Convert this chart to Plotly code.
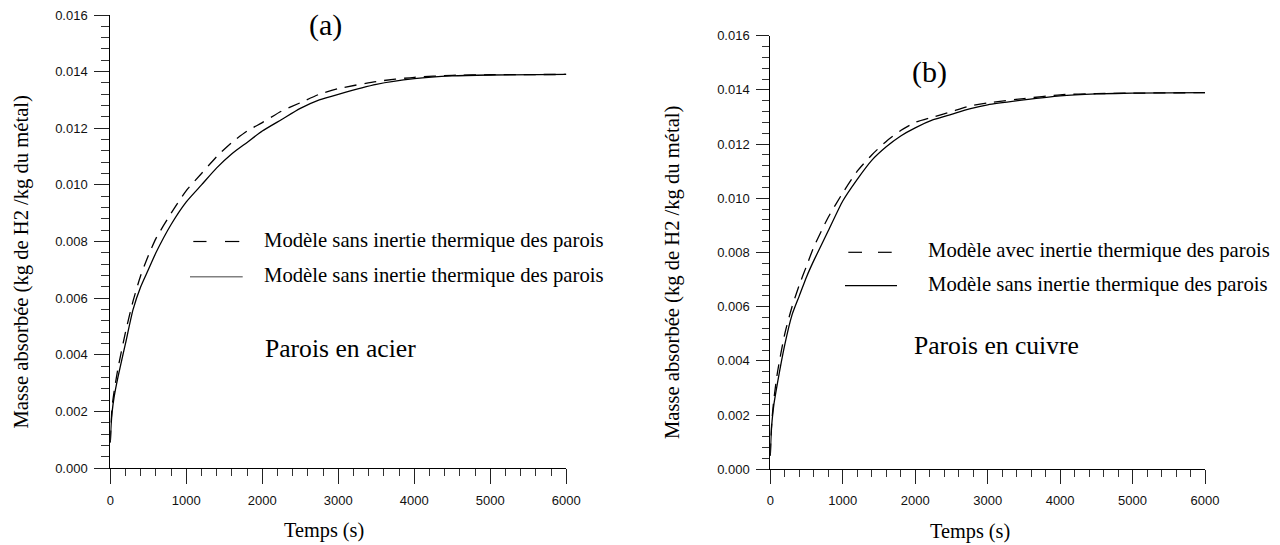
import plotly.graph_objects as go

# ---------------- data ----------------
temps = [0, 10, 25, 50, 100, 200, 300, 400, 500, 600, 800, 1000, 1200, 1400,
         1600, 1800, 2000, 2250, 2500, 2750, 3000, 3500, 4000, 4500, 5000, 6000]

# (a) Parois en acier
acier_dashed = [0.0009, 0.0016, 0.0022, 0.0027, 0.0035, 0.0048, 0.0059, 0.0068, 0.0075,
                0.0081, 0.0090, 0.0098, 0.0104, 0.0110, 0.0115, 0.0119, 0.0122, 0.0126,
                0.0129, 0.0132, 0.0134, 0.01365, 0.0138, 0.01387, 0.01389, 0.0139]
acier_solid = [0.0009, 0.0015, 0.0020, 0.0025, 0.0032, 0.0044, 0.0056, 0.0064, 0.0070,
               0.0076, 0.0086, 0.0094, 0.0100, 0.0106, 0.0111, 0.0115, 0.0119, 0.0123,
               0.0127, 0.0130, 0.0132, 0.01355, 0.01375, 0.01385, 0.01388, 0.0139]

# (b) Parois en cuivre
cuivre_dashed = [0.0005, 0.0013, 0.0019, 0.0026, 0.0036, 0.0050, 0.0060, 0.0068, 0.0075,
                 0.0082, 0.0093, 0.0102, 0.0110, 0.0116, 0.0121, 0.0125, 0.0128, 0.0130,
                 0.0132, 0.0134, 0.01352, 0.01368, 0.01382, 0.01386, 0.01388, 0.0139]
cuivre_solid = [0.0005, 0.0012, 0.0018, 0.0024, 0.0032, 0.0046, 0.0057, 0.0064, 0.0071,
                0.0077, 0.0088, 0.0099, 0.0107, 0.0114, 0.0119, 0.0123, 0.0126, 0.0129,
                0.0131, 0.0133, 0.01345, 0.01363, 0.01378, 0.01385, 0.01388, 0.0139]

x_ticks = [0, 1000, 2000, 3000, 4000, 5000, 6000]
y_ticks = [0.000, 0.002, 0.004, 0.006, 0.008, 0.010, 0.012, 0.014, 0.016]

legend_a = ["Modèle sans inertie thermique des parois", "Modèle sans inertie thermique des parois"]
legend_b = ["Modèle avec inertie thermique des parois", "Modèle sans inertie thermique des parois"]
y_title = "Masse absorbée (kg de H2 /kg du métal)"
x_title = "Temps (s)"

# ---------------- figure ----------------
W, H = 1280, 545
SERIF = "Liberation Serif, Times New Roman, serif"
SANS = "Liberation Sans, Arial, sans-serif"


def px(x):
    return x / W


def py(y):
    return (H - y) / H


fig = go.Figure()
line_w = 1.3
spl = dict(shape="spline", smoothing=0.6)
fig.add_trace(go.Scatter(x=temps, y=acier_dashed, mode="lines", xaxis="x", yaxis="y",
                         line=dict(color="black", width=line_w, dash="12px,8px", **spl),
                         name=legend_a[0], showlegend=False))
fig.add_trace(go.Scatter(x=temps, y=acier_solid, mode="lines", xaxis="x", yaxis="y",
                         line=dict(color="black", width=line_w, **spl),
                         name=legend_a[1], showlegend=False))
fig.add_trace(go.Scatter(x=temps, y=cuivre_dashed, mode="lines", xaxis="x2", yaxis="y2",
                         line=dict(color="black", width=line_w, dash="12px,8px", **spl),
                         name=legend_b[0], showlegend=False))
fig.add_trace(go.Scatter(x=temps, y=cuivre_solid, mode="lines", xaxis="x2", yaxis="y2",
                         line=dict(color="black", width=line_w, **spl),
                         name=legend_b[1], showlegend=False))


def xax(domain, anchor, ticklen, minorlen):
    return dict(domain=domain, anchor=anchor, range=[0, 6000], tickmode="array",
                tickvals=x_ticks, ticktext=[str(v) for v in x_ticks], automargin=False,
                ticks="outside", ticklen=ticklen, tickwidth=1, tickcolor="#222",
                showline=True, linecolor="black", linewidth=1, showgrid=False,
                zeroline=False, tickfont=dict(family=SANS, size=13, color="#111"),
                ticklabelstandoff=5,
                minor=dict(ticks="outside", dtick=200, tick0=0, ticklen=minorlen,
                           tickwidth=1, tickcolor="#333", showgrid=False))


def yax(domain, anchor, ticklen, minorlen):
    return dict(domain=domain, anchor=anchor, range=[0, 0.016], tickmode="array",
                tickvals=y_ticks, ticktext=["%.3f" % v for v in y_ticks], automargin=False,
                ticks="outside", ticklen=ticklen, tickwidth=1, tickcolor="#222",
                showline=True, linecolor="black", linewidth=1, showgrid=False,
                zeroline=False, tickfont=dict(family=SANS, size=13, color="#111"),
                ticklabelstandoff=4,
                minor=dict(ticks="outside", dtick=0.0004, tick0=0, ticklen=minorlen,
                           tickwidth=1, tickcolor="#333", showgrid=False))


fig.update_layout(
    width=W, height=H, margin=dict(l=0, r=0, t=0, b=0, autoexpand=False),
    paper_bgcolor="white", plot_bgcolor="white", showlegend=False,
    xaxis=xax([px(110.3), px(566.3)], "y", 15, 7),
    yaxis=yax([py(468.0), py(15.0)], "x", 15, 8),
    xaxis2=xax([px(770.3), px(1205.0)], "y2", 14, 7),
    yaxis2=yax([py(469.3), py(35.7)], "x2", 13, 7),
)

shapes = []
annotations = []


def hline(x0, x1, y, color="black", width=1.2):
    shapes.append(dict(type="line", xref="paper", yref="paper", x0=px(x0), x1=px(x1),
                       y0=py(y), y1=py(y), line=dict(color=color, width=width)))


def label(text, x, y, size, xanchor="left", angle=0):
    annotations.append(dict(text=text, x=px(x), y=py(y), xref="paper", yref="paper",
                            xanchor=xanchor, yanchor="middle", showarrow=False,
                            textangle=angle,
                            font=dict(family=SERIF, size=size, color="black")))


# legend (a)
hline(193.3, 206.5, 241.5)
hline(225.0, 239.3, 241.5)
hline(190.0, 242.7, 276.7, color="#808080", width=1.6)
label(legend_a[0], 262.0, 240.5, 20.7)
label(legend_a[1], 262.0, 275.5, 20.7)

# legend (b)
hline(848.3, 862.0, 252.3)
hline(878.0, 891.7, 252.3)
hline(845.0, 897.0, 285.7)
label(legend_b[0], 926.0, 251.0, 20.7)
label(legend_b[1], 926.0, 284.5, 20.7)

# panel labels and notes
label("(a)", 325.0, 25.0, 30, xanchor="center")
label("(b)", 929.0, 72.0, 30, xanchor="center")
label("Parois en acier", 262.5, 348.0, 25.6)
label("Parois en cuivre", 911.5, 346.0, 25.6)

# axis titles
label(x_title, 324.0, 530.0, 20.3, xanchor="center")
label(x_title, 970.0, 531.0, 20.3, xanchor="center")
label(y_title, 20.5, 262.0, 20.6, xanchor="center", angle=-90)
label(y_title, 672.0, 273.0, 20.6, xanchor="center", angle=-90)

fig.update_layout(shapes=shapes, annotations=annotations)
# remove the browser's default 8px body margin so the figure fills the window
fig.write_html("out.html",
               config={"displayModeBar": False, "staticPlot": True},
               post_script="document.body.style.margin='0px';"
                           "document.body.style.overflow='hidden';")
